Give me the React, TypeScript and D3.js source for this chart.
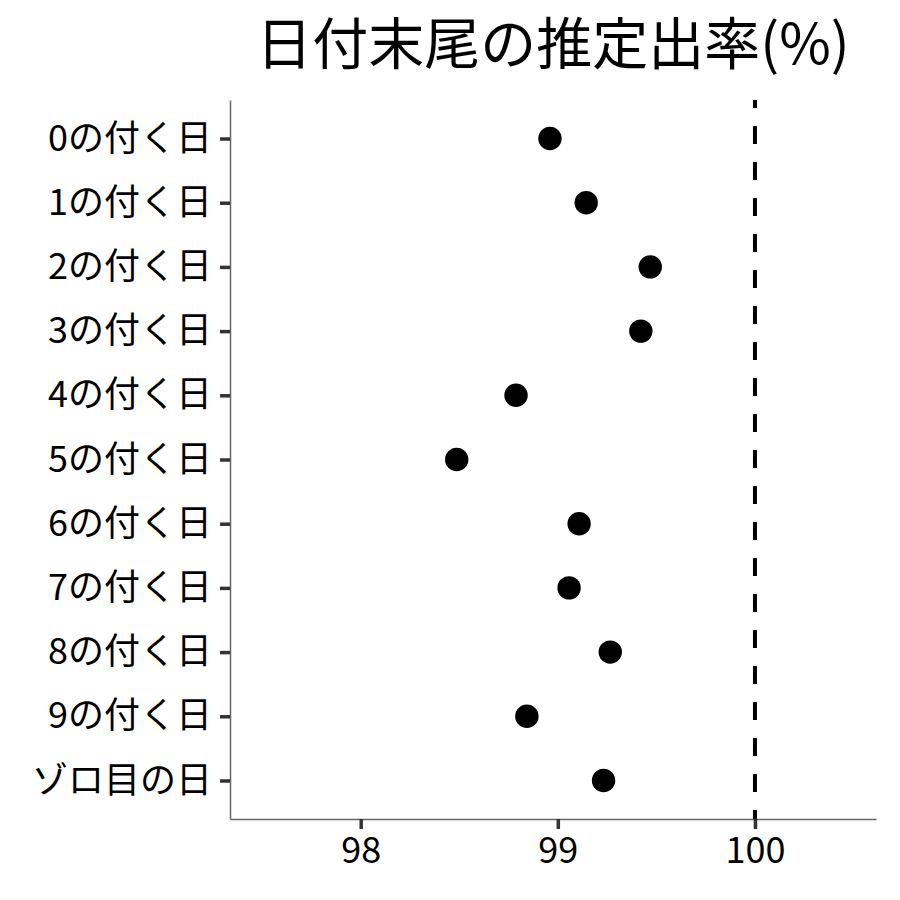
import * as d3 from "d3";
import { useRef, useEffect } from "react";

const categories = [
  "0の付く日",
  "1の付く日",
  "2の付く日",
  "3の付く日",
  "4の付く日",
  "5の付く日",
  "6の付く日",
  "7の付く日",
  "8の付く日",
  "9の付く日",
  "ゾロ目の日",
];
const rates = [98.96, 99.144, 99.469, 99.421, 98.788, 98.487, 99.108, 99.057, 99.266, 98.843, 99.232];
const xTicks = [98, 99, 100];
const title = "日付末尾の推定出率(%)";

const font = "'Noto Sans CJK JP', 'Noto Sans', sans-serif";

export default function App() {
  const width = 900;
  const height = 900;
  const margin = { top: 100, right: 24, bottom: 81, left: 230 };
  const svgRef = useRef<SVGSVGElement>(null);

  useEffect(() => {
    const svg = d3.select(svgRef.current);
    svg.selectAll("*").remove();

    const x = d3
      .scaleLinear()
      .domain([97.337, 100.614])
      .range([margin.left, width - margin.right]);

    const y = d3
      .scalePoint<string>()
      .domain(categories)
      .range([margin.top, height - margin.bottom])
      .padding(0.6);

    // dashed reference at 100
    svg
      .append("line")
      .attr("x1", x(100))
      .attr("x2", x(100))
      .attr("y1", margin.top)
      .attr("y2", height - margin.bottom)
      .attr("stroke", "#000")
      .attr("stroke-width", 4)
      .attr("stroke-dasharray", "18,18")
      .attr("stroke-dashoffset", 10);

    const xAxis = svg
      .append("g")
      .attr("transform", `translate(0,${height - margin.bottom})`)
      .call(
        d3
          .axisBottom(x)
          .tickValues(xTicks)
          .tickSize(10)
          .tickSizeOuter(0)
          .tickPadding(8)
          .tickFormat(d3.format("d"))
      );
    xAxis.select(".domain").attr("stroke", "#666").attr("stroke-width", 1.5);
    xAxis.selectAll(".tick line").attr("stroke", "#333").attr("stroke-width", 3.5);
    xAxis
      .selectAll(".tick text")
      .attr("fill", "#000")
      .style("font-family", font)
      .style("font-size", "36px");

    const yAxis = svg
      .append("g")
      .attr("transform", `translate(${margin.left},0)`)
      .call(d3.axisLeft(y).tickSize(10).tickPadding(8).tickSizeOuter(0));
    yAxis.select(".domain").attr("stroke", "#666").attr("stroke-width", 1.5);
    yAxis.selectAll(".tick line").attr("stroke", "#333").attr("stroke-width", 3.5);
    yAxis
      .selectAll(".tick text")
      .attr("fill", "#000")
      .style("font-family", font)
      .style("font-size", "36px");

    svg
      .append("g")
      .selectAll("circle")
      .data(rates)
      .join("circle")
      .attr("cx", (d) => x(d))
      .attr("cy", (_, i) => y(categories[i]) as number)
      .attr("r", 11.7)
      .attr("fill", "#000");

    svg
      .append("text")
      .attr("x", (margin.left + width - margin.right) / 2)
      .attr("y", 64)
      .attr("text-anchor", "middle")
      .style("font-family", font)
      .style("font-size", "56px")
      .text(title);
  }, []);

  return (
    <svg
      ref={svgRef}
      width={width}
      height={height}
      style={{ position: "absolute", left: 0, top: 0, background: "#fff" }}
    />
  );
}
